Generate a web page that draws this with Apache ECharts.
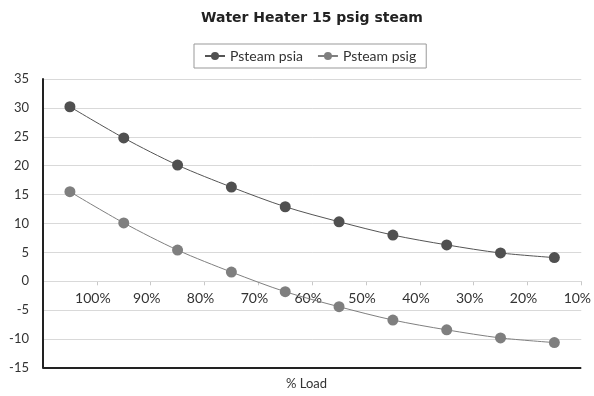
<!DOCTYPE html>
<html>
<head>
<meta charset="utf-8">
<script src="https://cdn.jsdelivr.net/npm/echarts@6/dist/echarts.min.js"></script>
<style>html,body{margin:0;padding:0;background:#fff}#c{width:594px;height:396px}</style>
</head>
<body>
<div id="c"></div>
<script>
var categories = ['100%','90%','80%','70%','60%','50%','40%','30%','20%','10%'];
var psia = [30.2, 24.8, 20.1, 16.3, 12.9, 10.3, 8.0, 6.3, 4.9, 4.1];
var psig = [15.5, 10.1, 5.4, 1.6, -1.8, -4.4, -6.7, -8.4, -9.8, -10.6];
var yMin = -15, yMax = 35, yStep = 5;

var FONT = 'Lato, "Open Sans", sans-serif';
var GRID = {left: 43, right: 11, top: 79, bottom: 28};
var plotH = 396 - GRID.top - GRID.bottom;
var zeroOffset = -((0 - yMin) / (yMax - yMin)) * plotH;

var chart = echarts.init(document.getElementById('c'), null, {renderer: 'canvas'});
chart.setOption({
  animation: false,
  backgroundColor: '#fff',
  textStyle: {fontFamily: FONT},
  title: [{
    text: 'Water Heater 15 psig steam',
    left: 196, top: 6,
    textStyle: {fontFamily: '"DejaVu Sans", sans-serif', fontSize: 14, fontWeight: 'bold', color: '#222'}
  }, {
    text: '% Load',
    left: 286, top: 377,
    padding: 0,
    textStyle: {fontFamily: FONT, fontSize: 13, fontWeight: 'normal', color: '#333'}
  }],
  legend: {
    left: 194, top: 44,
    padding: [5, 10, 5, 10],
    borderColor: '#999', borderWidth: 1,
    itemWidth: 20, itemHeight: 10, itemGap: 14,
    textStyle: {fontFamily: FONT, fontSize: 14, color: '#333'},
    data: ['Psteam psia', 'Psteam psig']
  },
  grid: {left: GRID.left, right: GRID.right, top: GRID.top, bottom: GRID.bottom, containLabel: false},
  xAxis: {
    type: 'category',
    data: categories,
    boundaryGap: true,
    offset: zeroOffset,
    z: 0,
    axisLine: {onZero: false, lineStyle: {color: '#d9d9d9', width: 1}},
    axisTick: {show: true, length: 4, lineStyle: {color: '#c8c8c8'}},
    axisLabel: {color: '#333', fontSize: 14, margin: 10, padding: [0, 0, 0, 46], interval: 0},
    splitLine: {show: false}
  },
  yAxis: {
    type: 'value',
    min: yMin, max: yMax, interval: yStep,
    z: 5,
    axisLine: {show: true, onZero: false, lineStyle: {color: '#222', width: 2}},
    axisTick: {show: false},
    axisLabel: {color: '#333', fontSize: 13, margin: 14},
    splitLine: {lineStyle: {color: '#d9d9d9', width: 1}}
  },
  series: [{
    name: 'Psteam psia',
    type: 'line',
    z: 10,
    data: psia,
    smooth: 0.3,
    symbol: 'circle', symbolSize: 11,
    itemStyle: {color: '#505050'},
    lineStyle: {color: '#555', width: 1},
    markLine: {
      silent: true, symbol: 'none', animation: false,
      label: {show: false},
      lineStyle: {color: '#222', width: 2, type: 'solid'},
      data: [{yAxis: yMin}]
    }
  }, {
    name: 'Psteam psig',
    type: 'line',
    z: 10,
    data: psig,
    smooth: 0.3,
    symbol: 'circle', symbolSize: 11,
    itemStyle: {color: '#7f7f7f'},
    lineStyle: {color: '#808080', width: 1}
  }]
});
</script>
</body>
</html>
